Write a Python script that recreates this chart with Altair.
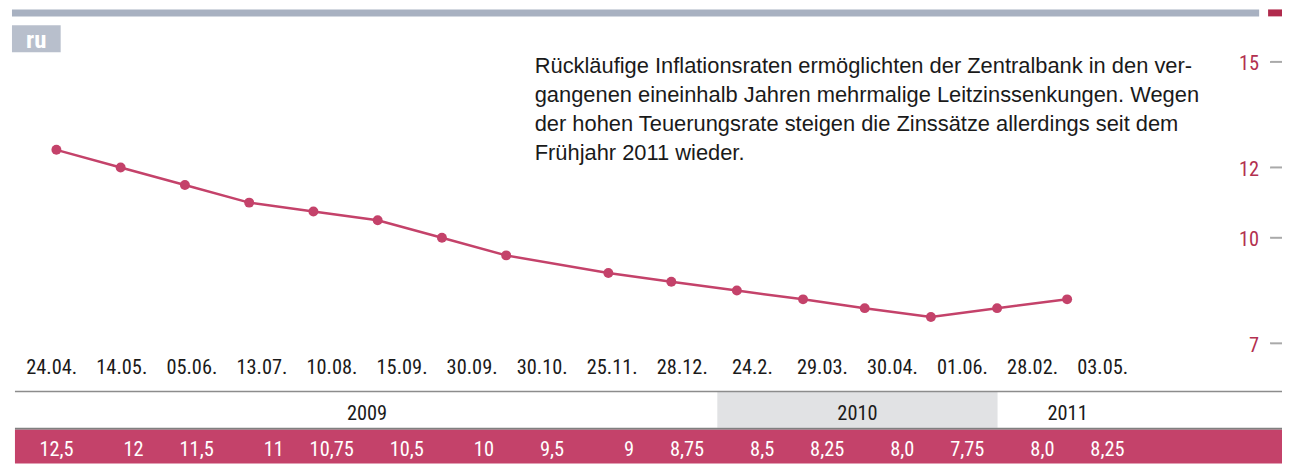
import altair as alt
import pandas as pd

# ---- data ----
dates = ["24.04.", "14.05.", "05.06.", "13.07.", "10.08.", "15.09.", "30.09.", "30.10.",
         "25.11.", "28.12.", "24.2.", "29.03.", "30.04.", "01.06.", "28.02.", "03.05."]
rates = [12.5, 12, 11.5, 11, 10.75, 10.5, 10, 9.5, 9, 8.75, 8.5, 8.25, 8.0, 7.75, 8.0, 8.25]
rate_labels = ["12,5", "12", "11,5", "11", "10,75", "10,5", "10", "9,5", "9", "8,75",
               "8,5", "8,25", "8,0", "7,75", "8,0", "8,25"]
years = [2009] * 10 + [2010] * 4 + [2011] * 2
# horizontal placement of the readings in the source graphic (in reading slots)
point_slot = [0, 1, 2, 3, 4, 5, 6, 7, 8.59, 9.57, 10.59, 11.62, 12.58, 13.61, 14.64, 15.73]
axis_ticks = [7, 10, 12, 15]
note_lines = [
    "Rückläufige Inflationsraten ermöglichten der Zentralbank in den ver-",
    "gangenen eineinhalb Jahren mehrmalige Leitzinssenkungen. Wegen",
    "der hohen Teuerungsrate steigen die Zinssätze allerdings seit dem",
    "Frühjahr 2011 wieder.",
]
region = "ru"

# ---- styles ----
W, H = 1282, 457
RED = "#c4426a"
AXRED = "#b3304f"
BAR = "#a8b1c1"
BOX = "#b8bfcc"
NARROW = "Roboto Condensed, Liberation Sans, sans-serif"
SANS = "Liberation Sans, Arial, sans-serif"
TXT = "#1a1a1a"

df = pd.DataFrame({
    "idx": list(range(len(dates))),
    "slot": point_slot,
    "rate": rates,
    "date": dates,
    "label": rate_labels,
})

groups = []
for yv in sorted(set(years)):
    ii = [i for i, v in enumerate(years) if v == yv]
    groups.append({"year": str(yv), "start": ii[0] - 0.5, "end": ii[-1] + 0.5,
                   "mid": (ii[0] + ii[-1]) / 2, "shade": len(groups) % 2 == 1})
ydf = pd.DataFrame(groups)
tdf = pd.DataFrame({"v": axis_ticks, "lab": [str(t) for t in axis_ticks]})

one = alt.Data(values=[{"a": 1}])

xs_pt = alt.Scale(domain=[-0.7532, 19.074], nice=False, zero=False)
xs_lab = alt.Scale(domain=[-0.6241, 17.560], nice=False, zero=False)
ys = alt.Scale(domain=[3.5819, 16.4915], nice=False, zero=False)

top_bar = alt.Chart(one).mark_rect(color=BAR).encode(
    x=alt.value(4), x2=alt.value(1259), y=alt.value(0), y2=alt.value(7))
top_sq = alt.Chart(one).mark_rect(color="#b02a4c").encode(
    x=alt.value(1268), x2=alt.value(1282), y=alt.value(0), y2=alt.value(7))
ru_box = alt.Chart(one).mark_rect(color=BOX).encode(
    x=alt.value(4), x2=alt.value(53), y=alt.value(16), y2=alt.value(43))
ru_txt = alt.Chart(one).mark_text(
    color="white", font=NARROW, fontSize=25, fontWeight="bold", align="center",
    baseline="alphabetic").encode(x=alt.value(28.5), y=alt.value(38.7), text=alt.value(region))

note = alt.Chart(one).mark_text(
    color=TXT, font=SANS, fontSize=22, align="left", baseline="alphabetic",
    lineBreak="\n", lineHeight=29.2).encode(
    x=alt.value(530), y=alt.value(63.5), text=alt.value("\n".join(note_lines)))

year_box = alt.Chart(ydf).transform_filter("datum.shade").mark_rect(color="#e1e2e4").encode(
    x=alt.X("start:Q", scale=xs_lab, axis=None), x2="end:Q",
    y=alt.value(385), y2=alt.value(421))
sep_line = alt.Chart(one).mark_rule(color="#8c8c8c", strokeWidth=1.5).encode(
    x=alt.value(7), x2=alt.value(1282), y=alt.value(384.5))
band_edge = alt.Chart(one).mark_rect(color="#808080").encode(
    x=alt.value(7), x2=alt.value(1282), y=alt.value(421), y2=alt.value(423))
band = alt.Chart(one).mark_rect(color=RED).encode(
    x=alt.value(7), x2=alt.value(1282), y=alt.value(423), y2=alt.value(457))

date_txt = alt.Chart(df).mark_text(
    color=TXT, font=NARROW, fontSize=20.5, align="center", baseline="alphabetic").encode(
    x=alt.X("idx:Q", scale=xs_lab, axis=None), y=alt.value(367), text="date:N")
year_txt = alt.Chart(ydf).mark_text(
    color=TXT, font=NARROW, fontSize=20.5, align="center", baseline="alphabetic").encode(
    x=alt.X("mid:Q", scale=xs_lab, axis=None), y=alt.value(412.7), text="year:N")
val_txt = alt.Chart(df).mark_text(
    color="white", font=NARROW, fontSize=20.5, align="right", baseline="alphabetic", dx=22).encode(
    x=alt.X("idx:Q", scale=xs_lab, axis=None), y=alt.value(449.3), text="label:N")

ticks = alt.Chart(tdf).mark_rule(color="#a9a9a9", strokeWidth=2).encode(
    y=alt.Y("v:Q", scale=ys, axis=None), x=alt.value(1270), x2=alt.value(1282))
tick_lab = alt.Chart(tdf).mark_text(
    color=AXRED, font=NARROW, fontSize=20.5, align="right", baseline="alphabetic", dy=8.5).encode(
    y=alt.Y("v:Q", scale=ys, axis=None), x=alt.value(1259), text="lab:N")

line = alt.Chart(df).mark_line(color=RED, strokeWidth=2.5).encode(
    x=alt.X("slot:Q", scale=xs_pt, axis=None), y=alt.Y("rate:Q", scale=ys, axis=None))
pts = alt.Chart(df).mark_circle(color=RED, size=100, opacity=1).encode(
    x=alt.X("slot:Q", scale=xs_pt, axis=None), y=alt.Y("rate:Q", scale=ys, axis=None))

chart = alt.layer(
    top_bar, top_sq, ru_box, ru_txt, note,
    year_box, sep_line, band_edge, band,
    date_txt, year_txt, val_txt,
    ticks, tick_lab, line, pts,
).resolve_scale(x="independent").properties(
    width=W, height=H, padding=0,
    autosize=alt.AutoSizeParams(type="none"),
    background="white",
).configure_view(stroke=None)

chart.save("out.html", embed_options={"renderer": "svg", "actions": False})
